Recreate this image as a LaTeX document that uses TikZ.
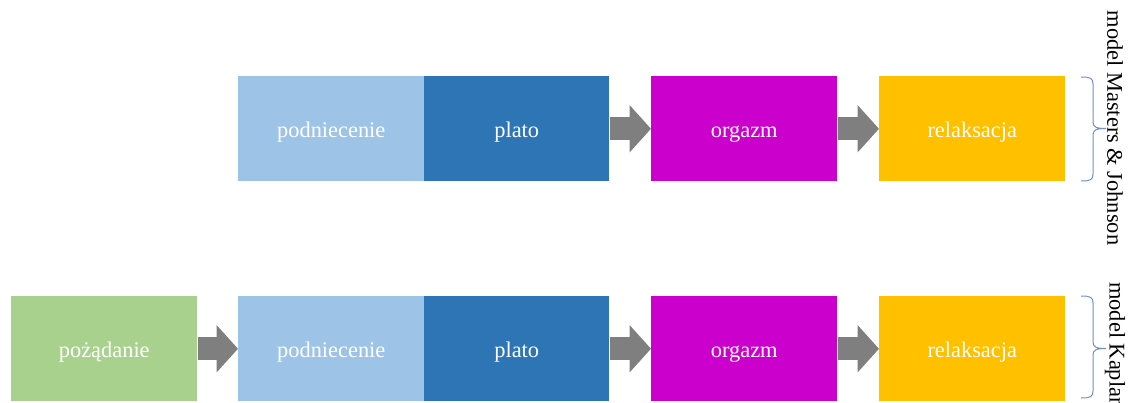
\documentclass[tikz,border=0pt]{standalone}
\usepackage{fontspec}
\setmainfont{Liberation Serif}
\usetikzlibrary{arrows.meta}
\definecolor{cgreen}{HTML}{A9D18E}
\definecolor{clblue}{HTML}{9DC3E6}
\definecolor{cblue}{HTML}{2E75B6}
\definecolor{cmag}{HTML}{CC00CC}
\definecolor{cyel}{HTML}{FFC000}
\definecolor{cgray}{HTML}{7F7F7F}
\definecolor{cbrace}{HTML}{6F8FCF}
\begin{document}
\begin{tikzpicture}[x=0.75pt,y=-0.75pt,
  stage/.style={anchor=north west,minimum width=139.5pt,minimum height=78.75pt,inner sep=0pt,
    text=white,font=\fontsize{16.8}{20}\selectfont,text height=13pt,text depth=0.2pt},
  flow/.style={draw=cgray,line width=17.25pt,-{Triangle[length=16pt,width=34.5pt]}},
  grp/.style={draw=cbrace,line width=0.75pt},
  lab/.style={rotate=-90,inner sep=0pt,font=\fontsize{16.8}{20}\selectfont}]
\useasboundingbox (0,0) rectangle (1133,403);
\clip (0,0) rectangle (1133,403);
% top row
\node[stage,fill=clblue] (p1) at (238,76) {podniecenie};
\node[stage,fill=cblue,minimum width=138.75pt] (pl1) at (424,76) {plato};
\node[stage,fill=cmag] (o1) at (651,76) {orgazm};
\node[stage,fill=cyel] (r1) at (879,76) {relaksacja};
% bottom row
\node[stage,fill=cgreen] (d2) at (11,296) {pożądanie};
\node[stage,fill=clblue] (p2) at (238,296) {podniecenie};
\node[stage,fill=cblue,minimum width=138.75pt] (pl2) at (424,296) {plato};
\node[stage,fill=cmag] (o2) at (651,296) {orgazm};
\node[stage,fill=cyel] (r2) at (879,296) {relaksacja};
% arrows
\draw[flow] (pl1.east) -- (o1.west);
\draw[flow] (o1.east) -- (r1.west);
\draw[flow] (d2.east) -- (p2.west);
\draw[flow] (pl2.east) -- (o2.west);
\draw[flow] (o2.east) -- (r2.west);
% braces
\draw[grp] (1081,77) .. controls (1090,77) and (1093,78) .. (1093,84) -- (1093,122)
  .. controls (1093,127) and (1096,128.5) .. (1106,128.5)
  .. controls (1096,128.5) and (1093,130) .. (1093,135) -- (1093,174)
  .. controls (1093,180) and (1090,181) .. (1081,181);
\draw[grp] (1081,296) .. controls (1090,296) and (1093,297) .. (1093,303) -- (1093,342)
  .. controls (1093,347) and (1096,348.5) .. (1106,348.5)
  .. controls (1096,348.5) and (1093,350) .. (1093,355) -- (1093,391)
  .. controls (1093,397) and (1090,398) .. (1081,398);
% labels
\node[lab] (l1) at (1115,128) {model Masters \& Johnson};
\node[lab,anchor=west] (l2) at (1115,282) {model Kaplan};
\end{tikzpicture}
\end{document}
